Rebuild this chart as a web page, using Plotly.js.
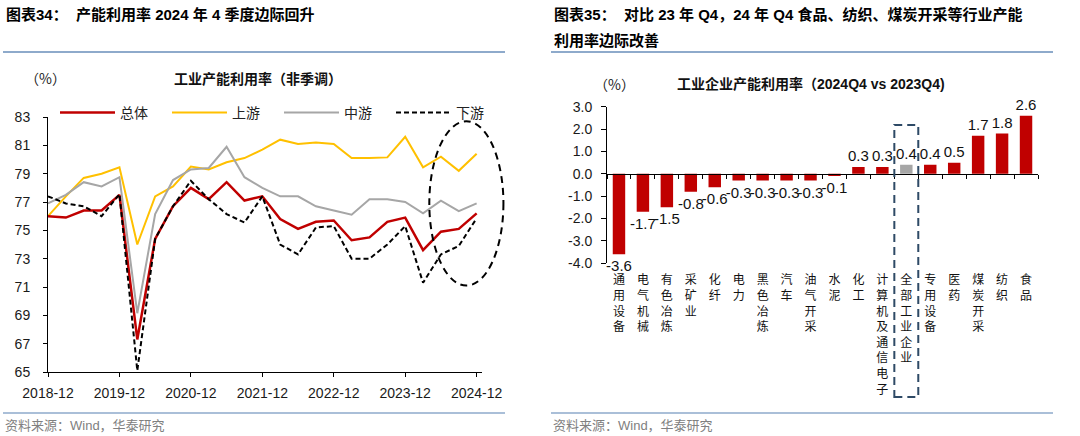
<!DOCTYPE html>
<html><head><meta charset="utf-8">
<script src="https://cdn.plot.ly/plotly-3.0.1.min.js"></script>
<style>html,body{margin:0;padding:0;background:#fff;} #chart{width:1080px;height:436px;}</style>
</head><body><div id="chart"></div>
<script>
// ---------- Left chart data (工业产能利用率, 非季调) ----------
const quarters = ['2018-12','2019-03','2019-06','2019-09','2019-12','2020-03','2020-06','2020-09','2020-12','2021-03','2021-06','2021-09','2021-12','2022-03','2022-06','2022-09','2022-12','2023-03','2023-06','2023-09','2023-12','2024-03','2024-06','2024-09','2024-12'];
const totalRate = [76.0,75.9,76.4,76.4,77.5,67.3,74.4,76.7,78.0,77.2,78.4,77.1,77.4,75.8,75.1,75.6,75.7,74.3,74.5,75.6,75.9,73.6,74.9,75.1,76.2];
const upstreamRate = [76.0,77.4,78.7,79.0,79.45,74.0,77.4,78.1,79.5,79.3,79.8,80.1,80.7,81.4,81.1,81.2,81.1,80.1,80.1,80.15,81.6,79.45,80.2,79.2,80.4];
const midstreamRate = [76.9,77.5,78.4,78.1,78.75,69.15,76.15,78.55,79.3,79.4,80.9,78.75,78.0,77.4,77.4,76.7,76.4,76.1,77.2,77.2,77.0,76.2,77.1,76.35,76.9];
const downstreamRate = [77.4,76.9,76.7,76.0,77.55,65.1,74.4,76.7,78.5,77.2,76.15,75.55,77.4,74.0,73.3,75.2,75.3,73.0,73.0,74.0,75.3,71.3,73.3,73.9,75.85];
const seriesNames = ['总体','上游','中游','下游'];
const yearTicks = ['2018-12','2019-12','2020-12','2021-12','2022-12','2023-12','2024-12'];
const leftYTicks = [65,67,69,71,73,75,77,79,81,83];

// ---------- Right chart data (2024Q4 vs 2023Q4 变化) ----------
const industries = ['通用设备','电气机械','有色冶炼','采矿业','化纤','电力','黑色冶炼','汽车','油气开采','水泥','化工','计算机及通信电子','全部工业企业','专用设备','医药','煤炭开采','纺织','食品'];
const changes = [-3.6,-1.7,-1.5,-0.8,-0.6,-0.3,-0.3,-0.3,-0.3,-0.1,0.3,0.3,0.4,0.4,0.5,1.7,1.8,2.6];
const highlightIndustry = '全部工业企业';
const rightYTicks = [-4,-3,-2,-1,0,1,2,3];

// ---------- helpers ----------
const W = 1080, H = 436;
const px = x => x / W;
const py = y => 1 - y / H;
const NUM = 'Liberation Sans, Arial, Noto Sans CJK SC, sans-serif';
const CJK = 'Noto Sans CJK SC, sans-serif';

const lXDomain = [px(48), px(482)];
const lXRange = [0, 24.3];
const lYDomain = [py(372), py(117)];
const rXDomain = [px(607), px(1038)];
const rYDomain = [py(263.3), py(106.7)];
const rYRange = [-4, 3];
const zeroPos = rYDomain[0] + (0 - rYRange[0]) / (rYRange[1] - rYRange[0]) * (rYDomain[1] - rYDomain[0]);
const lxPaper = idx => lXDomain[0] + (idx - lXRange[0]) / (lXRange[1] - lXRange[0]) * (lXDomain[1] - lXDomain[0]);

const lineTrace = (name, y, color, width, dash, rank) => ({
  type: 'scatter', mode: 'lines', name, x: quarters, y,
  xaxis: 'x', yaxis: 'y', legendrank: rank,
  line: {color, width, dash}, hoverinfo: 'skip'
});

const traces = [
  lineTrace(seriesNames[1], upstreamRate, '#ffc000', 2, 'solid', 2),
  lineTrace(seriesNames[2], midstreamRate, '#a6a6a6', 2, 'solid', 3),
  lineTrace(seriesNames[0], totalRate, '#c00000', 2.5, 'solid', 1),
  lineTrace(seriesNames[3], downstreamRate, '#000000', 2, '5px,3px', 4),
  {
    type: 'bar', x: industries, y: changes, xaxis: 'x2', yaxis: 'y2', showlegend: false,
    width: 0.52,
    marker: {color: industries.map(n => n === highlightIndustry ? '#a6a6a6' : '#c00000')},
    text: changes.map(v => v.toFixed(1)), textposition: 'outside', constraintext: 'none',
    cliponaxis: false, textfont: {family: NUM, size: 15, color: '#111'}, hoverinfo: 'skip'
  },
  {type: 'scatter', x: [], y: [], xaxis: 'x3', yaxis: 'y2', showlegend: false, hoverinfo: 'skip'}
];

const ann = (text, x, y, opts = {}) => Object.assign({
  text, xref: 'paper', yref: 'paper', x: px(x), y: py(y), showarrow: false,
  xanchor: 'left', yanchor: 'middle', font: {family: NUM, size: 15, color: '#000'}
}, opts);

const hline = (x0, x1, y, color, width) => ({
  type: 'line', xref: 'paper', yref: 'paper', x0: px(x0), x1: px(x1), y0: py(y), y1: py(y),
  line: {color, width}
});

const sepColor = '#8eaacb';
const hlIndex = industries.indexOf(highlightIndustry);

const layout = {
  width: W, height: H, autosize: false,
  margin: {l: 0, r: 0, t: 0, b: 0},
  paper_bgcolor: '#fff', plot_bgcolor: 'rgba(0,0,0,0)',
  font: {family: NUM, color: '#000'},
  showlegend: true,
  legend: {
    orientation: 'h', x: px(55), y: py(113), xanchor: 'left', yanchor: 'middle',
    itemwidth: 55, entrywidth: 42, entrywidthmode: 'pixels', traceorder: 'normal',
    font: {family: CJK, size: 14, color: '#222'}, bgcolor: 'rgba(0,0,0,0)'
  },
  xaxis: {
    domain: lXDomain, anchor: 'y', type: 'category', range: lXRange,
    tickvals: yearTicks, ticks: 'outside', ticklen: 4, tickcolor: '#000',
    showline: true, linecolor: '#000', linewidth: 1, showgrid: false, zeroline: false,
    tickfont: {family: NUM, size: 14, color: '#1a1a1a'}, ticklabelstandoff: 4, fixedrange: true
  },
  yaxis: {
    domain: lYDomain, anchor: 'x', range: [65, 83], tickvals: leftYTicks,
    ticks: 'outside', ticklen: 4, tickcolor: '#000',
    showline: true, linecolor: '#000', linewidth: 1, showgrid: false, zeroline: false,
    tickfont: {family: NUM, size: 14, color: '#1a1a1a'}, ticklabelstandoff: 10, fixedrange: true
  },
  xaxis2: {
    domain: rXDomain, anchor: 'y2', type: 'category', range: [-0.5, industries.length - 0.5],
    tickvals: industries, ticktext: industries.map(s => s.split('').join('<br>')),
    ticks: '', showline: false, showgrid: false, zeroline: false,
    tickfont: {family: CJK, size: 12, color: '#111'}, ticklabelstandoff: 8, fixedrange: true
  },
  xaxis3: {
    domain: rXDomain, anchor: 'free', position: zeroPos, overlaying: 'x2', type: 'linear',
    range: [-0.5, industries.length - 0.5], tick0: -0.5, dtick: 1,
    ticks: 'outside', ticklen: 4, tickcolor: '#000', showticklabels: false,
    showline: true, linecolor: '#000', linewidth: 1, showgrid: false, zeroline: false, fixedrange: true
  },
  yaxis2: {
    domain: rYDomain, anchor: 'x2', range: rYRange,
    tickvals: rightYTicks, ticktext: rightYTicks.map(v => v.toFixed(1)),
    ticks: 'outside', ticklen: 5, tickcolor: '#000',
    showline: true, linecolor: '#000', linewidth: 1, showgrid: false, zeroline: false,
    tickfont: {family: NUM, size: 14, color: '#1a1a1a'}, ticklabelstandoff: 6, fixedrange: true
  },
  shapes: [
    hline(3, 505, 52, sepColor, 2),
    hline(551, 1053, 52, sepColor, 2),
    hline(3, 505, 413, sepColor, 1.5),
    hline(551, 1053, 413, sepColor, 1.5),
    {
      type: 'circle', xref: 'paper', yref: 'y',
      x0: lxPaper(21.35), x1: lxPaper(25.5), y0: 71.1, y1: 82.7,
      line: {color: '#000', width: 2, dash: '7px,5px'}
    },
    {
      type: 'rect', xref: 'x2', yref: 'paper',
      x0: hlIndex - 0.5, x1: hlIndex + 0.5, y0: py(397), y1: py(125),
      line: {color: '#2e4a66', width: 2, dash: '8px,5px'}
    }
  ],
  annotations: [
    ann('<b>图表34：  产能利用率 2024 年 4 季度边际回升</b>', 4, 15),
    ann('<b>图表35：  对比 23 年 Q4，24 年 Q4 食品、纺织、煤炭开采等行业产能</b>', 552, 15),
    ann('<b>利用率边际改善</b>', 552, 40),
    ann('（%）', 45, 78, {xanchor: 'center', font: {family: CJK, size: 14, color: '#222'}}),
    ann('<b>工业产能利用率（非季调）</b>', 258, 78, {xanchor: 'center', font: {family: CJK, size: 14, color: '#111'}}),
    ann('（%）', 614, 84, {xanchor: 'center', font: {family: CJK, size: 14, color: '#222'}}),
    ann('<b>工业企业产能利用率（2024Q4 vs 2023Q4)</b>', 811, 84, {xanchor: 'center', font: {family: NUM, size: 14, color: '#111'}}),
    ann('资料来源：Wind，华泰研究', 3, 425, {font: {family: NUM, size: 13, color: '#808080'}}),
    ann('资料来源：Wind，华泰研究', 551, 425, {font: {family: NUM, size: 13, color: '#808080'}})
  ]
};

Plotly.newPlot('chart', traces, layout, {displayModeBar: false, staticPlot: true});
</script>
</body></html>
